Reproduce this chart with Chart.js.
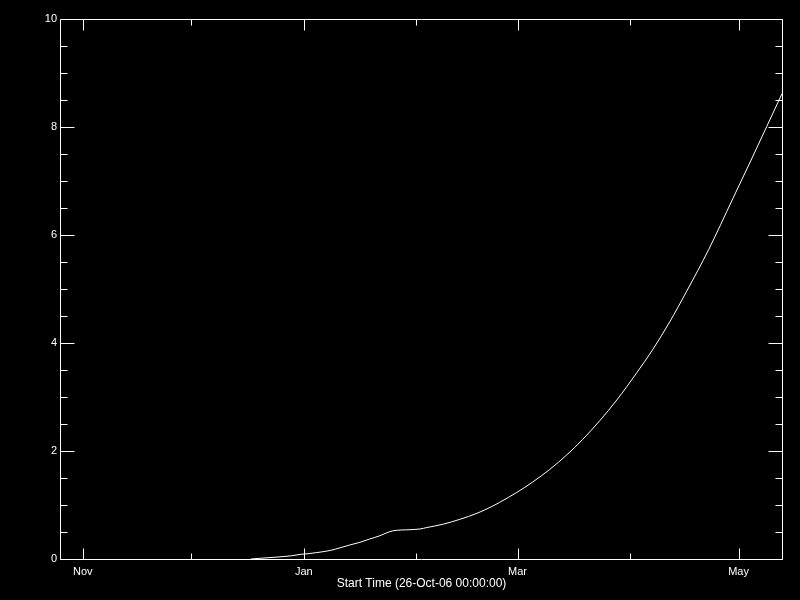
<!DOCTYPE html>
<html>
<head>
<meta charset="utf-8">
<script src="https://cdn.jsdelivr.net/npm/chart.js@4/dist/chart.umd.min.js"></script>
<style>
  html, body { margin: 0; padding: 0; background: #000; }
  canvas { display: block; }
</style>
</head>
<body>
<canvas id="c" width="800" height="600"></canvas>
<script>
// Days since 26-Oct-06 00:00:00
const days = [52.4, 54.9, 59.9, 63.7, 66.2, 68.2, 70.4, 72.3, 74.5, 77.0, 79.7, 82.5, 85.2, 88.0, 90.0, 91.6, 96.3, 99.1, 101.0, 105.4, 110.1, 114.8, 119.2, 121.1, 125.8, 130.2, 134.9, 139.6, 144.0, 148.7, 153.4, 158.9, 163.4, 168.0, 172.7, 178.8, 185.4, 190.1, 194.8, 199.0];
const values = [0.0, 0.013, 0.037, 0.061, 0.087, 0.098, 0.117, 0.135, 0.161, 0.207, 0.259, 0.309, 0.37, 0.431, 0.487, 0.522, 0.543, 0.556, 0.583, 0.643, 0.735, 0.846, 0.981, 1.05, 1.233, 1.426, 1.659, 1.928, 2.215, 2.561, 2.944, 3.448, 3.887, 4.39, 4.96, 5.735, 6.67, 7.335, 8.011, 8.617];

const xMajorDays = [6, 67, 126, 187];
const xMajorLabels = ['Nov', 'Jan', 'Mar', 'May'];
const xMinorDays = [36, 98, 157];
const yMajorValues = [0, 2, 4, 6, 8, 10];
const yMinorStep = 0.5;
const xTitle = 'Start Time (26-Oct-06 00:00:00)';

const points = days.map((d, i) => ({ x: d, y: values[i] }));

const boxPlugin = {
  id: 'box',
  beforeDraw(chart) {
    const ctx = chart.ctx;
    ctx.save();
    ctx.fillStyle = '#000';
    ctx.fillRect(0, 0, chart.width, chart.height);
    ctx.restore();
  },
  afterDraw(chart) {
    const { ctx, chartArea: a, scales } = chart;
    const xs = scales.x, ys = scales.y;
    const L = a.left - 0.5, R = Math.round(a.right) + 0.5, T = Math.round(a.top) + 0.5, B = Math.round(a.bottom) + 0.5;
    ctx.save();
    ctx.strokeStyle = '#fff';
    ctx.lineWidth = 1;
    ctx.beginPath();
    ctx.rect(L, T, R - L, B - T);
    const xt = (d, len) => {
      const px = Math.round(xs.getPixelForValue(d)) + 0.5;
      ctx.moveTo(px, B); ctx.lineTo(px, B - len);
      ctx.moveTo(px, T); ctx.lineTo(px, T + len);
    };
    xMajorDays.forEach(d => xt(d, 11));
    xMinorDays.forEach(d => xt(d, 6));
    const yt = (v, len) => {
      const py = Math.round(ys.getPixelForValue(v)) + 0.5;
      ctx.moveTo(L, py); ctx.lineTo(L + len, py);
      ctx.moveTo(R, py); ctx.lineTo(R - len, py);
    };
    yMajorValues.forEach(v => yt(v, 14));
    for (let v = 0; v <= 10 + 1e-9; v += yMinorStep) {
      if (!yMajorValues.includes(Math.round(v * 10) / 10)) yt(v, 7);
    }
    ctx.stroke();
    ctx.restore();
  }
};

new Chart(document.getElementById('c'), {
  type: 'line',
  data: {
    datasets: [{
      data: points,
      borderColor: '#fff',
      borderWidth: 1,
      pointRadius: 0,
      fill: false,
      cubicInterpolationMode: 'monotone'
    }]
  },
  options: {
    responsive: false,
    animation: false,
    devicePixelRatio: 1,
    layout: { padding: { top: 19, right: 18, left: 0, bottom: 0 } },
    plugins: { legend: { display: false }, tooltip: { enabled: false } },
    scales: {
      x: {
        type: 'linear',
        min: 0,
        max: 199,
        grid: { display: false, drawTicks: false },
        border: { display: false },
        afterBuildTicks(scale) { scale.ticks = xMajorDays.map(v => ({ value: v })); },
        afterFit(scale) { scale.height = 41; },
        ticks: {
          color: '#fff',
          font: { family: 'Liberation Sans', size: 11 },
          padding: 6,
          maxRotation: 0,
          autoSkip: false,
          callback(value) {
            const i = xMajorDays.indexOf(value);
            return i >= 0 ? xMajorLabels[i] : '';
          }
        },
        title: {
          display: true,
          text: xTitle,
          color: '#fff',
          font: { family: 'Liberation Sans', size: 12 },
          padding: { top: 0, bottom: 9 }
        }
      },
      y: {
        type: 'linear',
        min: 0,
        max: 10,
        grid: { display: false, drawTicks: false },
        border: { display: false },
        afterBuildTicks(scale) { scale.ticks = yMajorValues.map(v => ({ value: v })); },
        afterFit(scale) { scale.width = 61; },
        ticks: {
          color: '#fff',
          font: { family: 'Liberation Sans', size: 11 },
          padding: 4,
          autoSkip: false,
          callback(value) { return String(value); }
        }
      }
    }
  },
  plugins: [boxPlugin]
});
</script>
</body>
</html>
